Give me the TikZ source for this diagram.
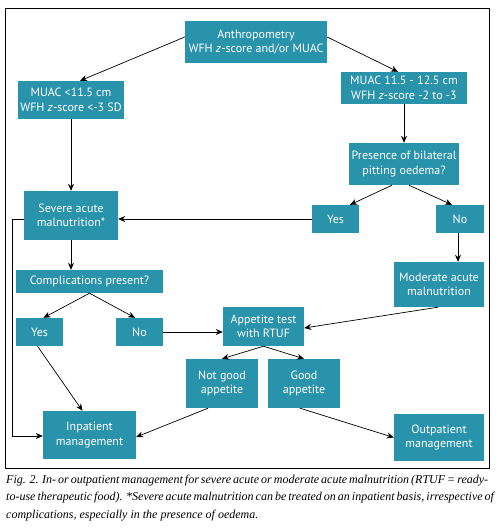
\documentclass[tikz,border=0pt]{standalone}
\usepackage{fontspec}
\setmainfont{PT Sans}
\newfontfamily\capfont{Liberation Serif}
\usetikzlibrary{arrows.meta,calc}
\definecolor{teal1}{HTML}{2A93AC}
\tikzset{
  box/.style={fill=teal1, text=white, inner sep=0pt, align=center,
    font=\fontsize{12}{14.5}\selectfont},
  arr/.style={-{Stealth[length=7pt,width=6pt]}, line width=0.7pt, black},
  captxt/.style={anchor=base west, inner sep=0pt, font=\capfont\itshape\fontsize{12}{17}\selectfont},
}
\begin{document}
\begin{tikzpicture}[x=1pt,y=-1pt]
\useasboundingbox (0,0) rectangle (497,528);
\draw[line width=0.8pt] (5,8) rectangle (489,468);
\node[box, minimum width=142pt, minimum height=42pt] (anth) at (256,42) {Anthropometry\\WFH \textit{z}-score and/or MUAC};
\node[box, minimum width=106pt, minimum height=38pt] (m1) at (71,100) {MUAC <11.5 cm\\WFH \textit{z}-score <-3 SD};
\node[box, minimum width=126pt, minimum height=32pt] (m2) at (404,88) {MUAC 11.5 - 12.5 cm\\WFH \textit{z}-score -2 to -3};
\node[box, minimum width=110pt, minimum height=42pt] (pres) at (404,164) {Presence of bilateral\\pitting oedema?};
\node[box, minimum width=94pt, minimum height=49pt] (sev) at (71,215.5) {Severe acute\\malnutrition*};
\node[box, minimum width=47pt, minimum height=28pt] (yes1) at (335.5,219) {Yes};
\node[box, minimum width=48pt, minimum height=28pt] (no1) at (460,219) {No};
\node[box, minimum width=90pt, minimum height=45pt] (mod) at (439,284.5) {Moderate acute\\malnutrition};
\node[box, minimum width=147pt, minimum height=23pt] (comp) at (89.5,281.5) {Complications present?};
\node[box, minimum width=47pt, minimum height=28pt] (yes2) at (39.5,332) {Yes};
\node[box, minimum width=47pt, minimum height=28pt] (no2) at (139.5,332) {No};
\node[box, minimum width=81pt, minimum height=39pt] (app) at (263.5,326.5) {Appetite test\\with RTUF};
\node[box, minimum width=72pt, minimum height=49pt] (ng) at (222,383.5) {Not good\\appetite};
\node[box, minimum width=72pt, minimum height=49pt] (good) at (304,383.5) {Good\\appetite};
\node[box, minimum width=93pt, minimum height=48pt] (inp) at (89.5,435) {Inpatient\\management};
\node[box, minimum width=90pt, minimum height=47pt] (outp) at (439,437.5) {Outpatient\\management};

\draw[arr] ([yshift=5pt]anth.west) -- ([xshift=9pt]m1.north);
\draw[arr] ([yshift=5pt]anth.east) -- ([xshift=-6pt]m2.north);
\draw[arr] (m1.south) -- (sev.north);
\draw[arr] (m2.south) -- (pres.north);
\draw[arr] ([xshift=-12pt]pres.south) -- ([xshift=14.5pt]yes1.north);
\draw[arr] ([xshift=5pt]pres.south) -- ([xshift=-8pt]no1.north);
\draw[arr] (yes1.west) -- (yes1.west -| sev.east);
\draw[arr] ([xshift=-2pt]no1.south) -- ([xshift=-2pt]no1.south |- mod.north);
\draw[arr] (sev.south) -- (sev.south |- comp.north);
\draw[arr] (comp.south) -- ([xshift=4pt]yes2.north);
\draw[arr] (comp.south) -- ([xshift=-4.5pt]no2.north);
\draw[arr] (no2.east) -- (no2.east -| app.west);
\draw[arr] ([xshift=-1pt]mod.south) -- ([yshift=-1.5pt]app.east);
\draw[arr] (app.south) -- (ng.north);
\draw[arr] (app.south) -- (good.north);
\draw[arr] ([xshift=-2pt]yes2.south) -- ([xshift=-7pt]inp.north);
\draw[arr] ([yshift=-3.5pt]sev.west) -- ++(-11,0) |- ([yshift=-1pt]inp.west);
\draw[arr] ([xshift=-14pt]ng.south) -- ([yshift=-2pt]inp.east);
\draw[arr] ([xshift=-4pt]good.south) -- (outp.west);

\node[captxt] (c1) at (6,483) {\makebox[482pt][s]{Fig. 2. In- or outpatient management for severe acute or moderate acute malnutrition (RTUF = ready-}};
\node[captxt] (c2) at (6,500) {\makebox[482pt][s]{to-use therapeutic food). *Severe acute malnutrition can be treated on an inpatient basis, irrespective of}};
\node[captxt] (c3) at (6,518) {complications, especially in the presence of oedema.};
\end{tikzpicture}
\end{document}
